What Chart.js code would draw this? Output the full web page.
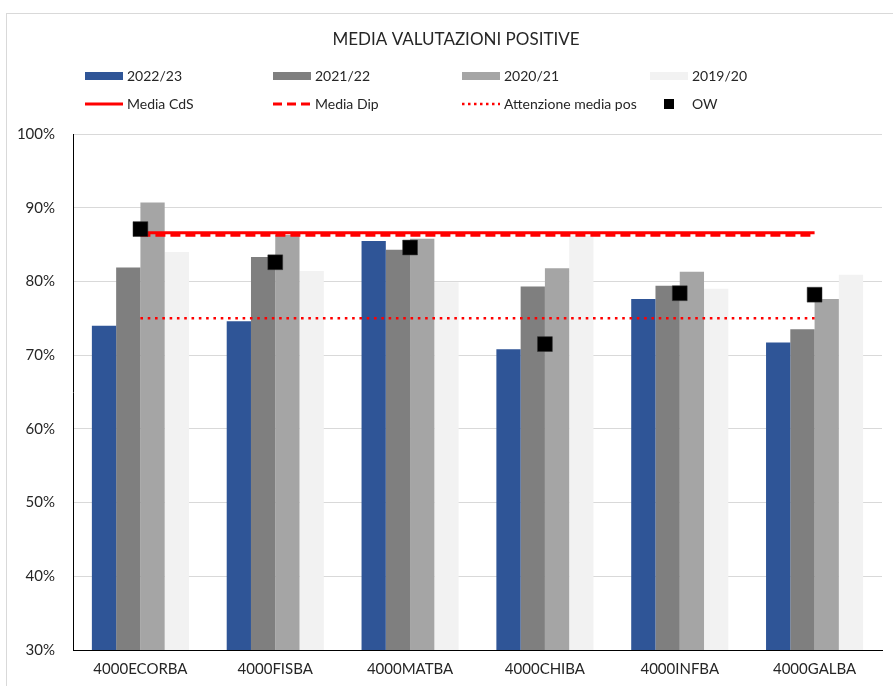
<!DOCTYPE html>
<html>
<head>
<meta charset="utf-8">
<script src="https://cdn.jsdelivr.net/npm/chart.js@4/dist/chart.umd.min.js"></script>
<style>
  html, body { margin: 0; padding: 0; background: #fff; }
  #wrap { width: 893px; height: 686px; }
</style>
</head>
<body>
<div id="wrap"><canvas id="chart" width="893" height="686"></canvas></div>
<script>
// data
const categories = ['4000ECORBA', '4000FISBA', '4000MATBA', '4000CHIBA', '4000INFBA', '4000GALBA'];
const yearLabels = ['2022/23', '2021/22', '2020/21', '2019/20'];
const y2022 = [74.0, 74.6, 85.5, 70.8, 77.6, 71.7];
const y2021 = [81.9, 83.3, 84.3, 79.3, 79.4, 73.5];
const y2020 = [90.7, 86.3, 85.8, 81.8, 81.3, 77.6];
const y2019 = [84.0, 81.4, 79.9, 86.2, 79.0, 80.9];
const owValues = [87.1, 82.6, 84.6, 71.5, 78.4, 78.2];
const mediaCdS = [86.6, 86.6, 86.6, 86.6, 86.6, 86.6];
const mediaDip = [86.25, 86.25, 86.25, 86.25, 86.25, 86.25];
const attenzione = [75.0, 75.0, 75.0, 75.0, 75.0, 75.0];
const yTicks = [30, 40, 50, 60, 70, 80, 90, 100];

const FONT = 'Lato, "Open Sans", sans-serif';
const TXT = '#262626';
const barColors = ['#2F5597', '#7F7F7F', '#A5A5A5', '#F2F2F2'];

// title + legend grid + outer frame, drawn like the spreadsheet chart
const decorPlugin = {
  id: 'decor',
  beforeDraw(chart) {
    const ctx = chart.ctx;
    ctx.save();
    ctx.fillStyle = '#fff';
    ctx.fillRect(0, 0, chart.width, chart.height);
    ctx.strokeStyle = '#d9d9d9';
    ctx.lineWidth = 1;
    ctx.strokeRect(6.5, 13.5, chart.width + 10, chart.height + 10);
    ctx.restore();
  },
  afterDraw(chart) {
    const ctx = chart.ctx;
    ctx.save();
    ctx.fillStyle = TXT;
    ctx.textBaseline = 'middle';
    ctx.textAlign = 'center';
    ctx.font = '17px ' + FONT;
    ctx.fillText('MEDIA VALUTAZIONI POSITIVE', 456, 40);

    const cols = [85, 273, 462, 650];
    const sw = 38;
    ctx.textAlign = 'left';
    ctx.font = '14px ' + FONT;
    // row 1: bar years
    const r1 = 76;
    yearLabels.forEach((lab, i) => {
      ctx.fillStyle = barColors[i];
      ctx.fillRect(cols[i], r1 - 4, sw, 8);
      ctx.fillStyle = TXT;
      ctx.fillText(lab, cols[i] + sw + 4, r1);
    });
    // row 2: lines and OW
    const r2 = 104;
    const lineItems = [
      { t: 'Media CdS', dash: [] },
      { t: 'Media Dip', dash: [9, 5] },
      { t: 'Attenzione media pos', dash: [2.5, 3.5] }
    ];
    lineItems.forEach((it, i) => {
      ctx.strokeStyle = '#ff0000';
      ctx.lineWidth = i === 2 ? 2.5 : 3;
      ctx.setLineDash(it.dash);
      ctx.beginPath();
      ctx.moveTo(cols[i], r2);
      ctx.lineTo(cols[i] + sw, r2);
      ctx.stroke();
      ctx.setLineDash([]);
      ctx.fillStyle = TXT;
      ctx.fillText(it.t, cols[i] + sw + 4, r2);
    });
    ctx.fillStyle = '#000';
    ctx.fillRect(cols[3] + sw / 2 - 5, r2 - 5, 10, 10);
    ctx.fillStyle = TXT;
    ctx.fillText('OW', cols[3] + sw + 4, r2);
    ctx.restore();
  }
};

const lineDs = (label, data, dash, width, order) => ({
  type: 'line', label, data, order,
  borderColor: '#ff0000', backgroundColor: '#ff0000',
  borderWidth: width, borderDash: dash, borderCapStyle: 'butt',
  pointRadius: 0, pointHoverRadius: 0, fill: false, tension: 0
});

const barDs = (label, data, i) => ({
  type: 'bar', label, data, order: 5,
  backgroundColor: barColors[i], borderWidth: 0,
  barPercentage: 1, categoryPercentage: 0.72
});

new Chart(document.getElementById('chart'), {
  data: {
    labels: categories,
    datasets: [
      barDs(yearLabels[0], y2022, 0),
      barDs(yearLabels[1], y2021, 1),
      barDs(yearLabels[2], y2020, 2),
      barDs(yearLabels[3], y2019, 3),
      lineDs('Media CdS', mediaCdS, [], 3, 1),
      lineDs('Media Dip', mediaDip, [10, 5], 3, 2),
      lineDs('Attenzione media pos', attenzione, [2.6, 4.7], 2.6, 3),
      {
        type: 'line', label: 'OW', data: owValues, order: 0,
        showLine: false, pointStyle: 'rect', pointRadius: 10.5, pointHoverRadius: 10.5,
        pointBackgroundColor: '#000', pointBorderColor: '#333', pointBorderWidth: 0.5
      }
    ]
  },
  options: {
    responsive: false,
    animation: false,
    layout: { padding: { top: 134, right: 4, bottom: 0, left: 0 } },
    plugins: {
      legend: { display: false },
      title: { display: false },
      tooltip: { enabled: false }
    },
    scales: {
      x: {
        offset: true,
        grid: { display: false, drawTicks: false },
        border: { display: true, color: '#000', width: 1 },
        ticks: { color: TXT, font: { family: FONT, size: 15 }, padding: 10, maxRotation: 0 },
        afterFit(s) { s.height = 36; }
      },
      y: {
        min: 30, max: 100,
        afterBuildTicks(s) { s.ticks = yTicks.map(v => ({ value: v })); },
        grid: { color: '#d9d9d9', lineWidth: 1, drawTicks: false },
        border: { display: true, color: '#000', width: 1 },
        ticks: {
          color: TXT, font: { family: FONT, size: 15 }, padding: 18,
          callback: v => v + '%'
        },
        afterFit(s) { s.width = 73; }
      }
    }
  },
  plugins: [decorPlugin]
});
</script>
</body>
</html>
